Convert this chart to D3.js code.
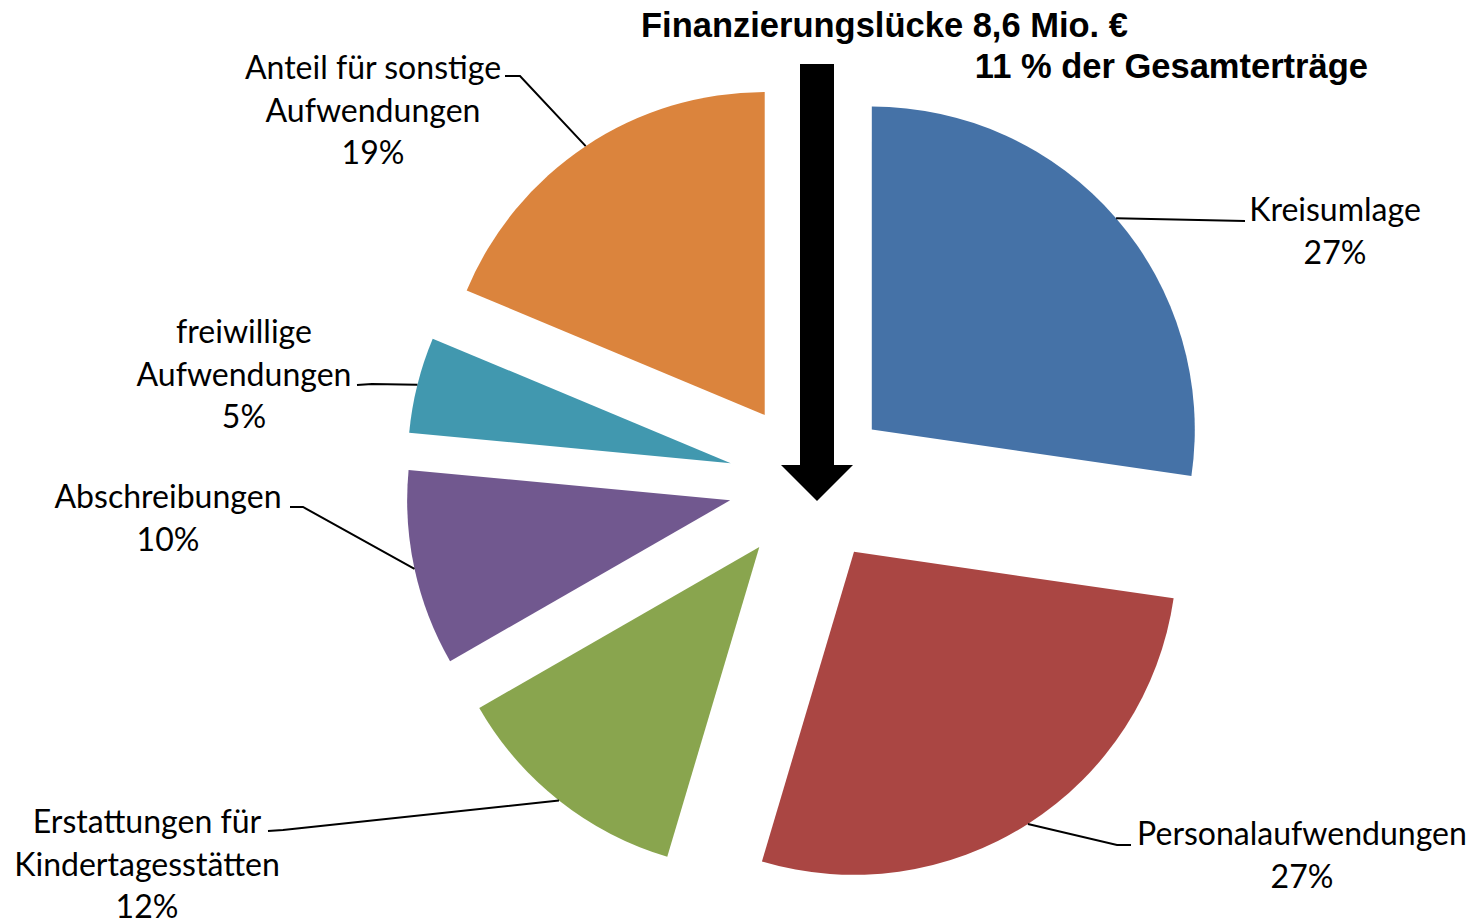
<!DOCTYPE html>
<meta charset="utf-8">
<script src="https://d3js.org/d3.v7.min.js"></script>
<style>
  body { margin: 0; background: #fff; }
</style>
<body>
<svg id="chart" width="1473" height="920"></svg>
<script>
// data
var categories = ["Kreisumlage", "Personalaufwendungen", "Erstattungen für Kindertagesstätten",
                  "Abschreibungen", "freiwillige Aufwendungen", "Anteil für sonstige Aufwendungen"];
var labelLines = [["Kreisumlage"], ["Personalaufwendungen"], ["Erstattungen für", "Kindertagesstätten"],
                  ["Abschreibungen"], ["freiwillige", "Aufwendungen"], ["Anteil für sonstige", "Aufwendungen"]];
var values = [27.3, 27.3, 12.1, 9.8, 4.8, 18.7];
var titleLines = ["Finanzierungslücke 8,6 Mio. €", "11 % der Gesamterträge"];

// layout
var colors = ["#4572A7", "#AA4643", "#89A54E", "#71588F", "#4198AF", "#DB843D"];
var labelPos = [[1335, 210], [1302, 834], [147, 822], [168, 497], [244, 332], [373, 68]];
// leader line: elbow point then end point next to the label
var leaderEnd = [[null, [1245, 221]], [[1117, 845], [1131, 845]], [[283, 830], [268, 831]],
                 [[303, 507], [290, 507]], [[372, 384], [357, 385]], [[520, 76], [505, 76]]];

var cx = 810, cy = 483, radius = 323, explode = 81.7, lineH = 42.5;

var svg = d3.select("#chart");
var total = d3.sum(values);
var pct = d3.format(".0%");

var pie = d3.pie().sort(null).value(function(d) { return d; });
var arc = d3.arc().innerRadius(0).outerRadius(radius);
var outer = d3.arc().innerRadius(radius + explode).outerRadius(radius + explode);
var arcs = pie(values);

var g = svg.append("g").attr("transform", "translate(" + cx + "," + cy + ")");

g.selectAll("path.slice")
  .data(arcs)
  .enter().append("path")
    .attr("class", "slice")
    .attr("fill", function(d, i) { return colors[i]; })
    .attr("transform", function(d) {
      var a = (d.startAngle + d.endAngle) / 2;
      return "translate(" + (Math.sin(a) * explode) + "," + (-Math.cos(a) * explode) + ")";
    })
    .attr("d", arc);

// leader lines
svg.selectAll("path.leader")
  .data(arcs)
  .enter().append("path")
    .attr("class", "leader")
    .attr("fill", "none")
    .attr("stroke", "#000")
    .attr("stroke-width", 2)
    .attr("d", function(d, i) {
      var c = outer.centroid(d);
      var pts = [[cx + c[0], cy + c[1]]];
      if (leaderEnd[i][0]) pts.push(leaderEnd[i][0]);
      pts.push(leaderEnd[i][1]);
      return d3.line()(pts);
    });

// labels, font sized so that "Personalaufwendungen" is ~330px wide
var labelFont = "Lato, 'Open Sans', sans-serif";
var probe = svg.append("text").attr("font-family", labelFont).attr("font-size", 100).text("Personalaufwendungen");
var fs = 100 * 330 / probe.node().getComputedTextLength();
probe.remove();

var labels = svg.selectAll("text.label")
  .data(arcs)
  .enter().append("text")
    .attr("class", "label")
    .attr("font-family", labelFont)
    .attr("font-size", fs)
    .attr("fill", "#000")
    .attr("text-anchor", "middle");

labels.each(function(d, i) {
  var t = d3.select(this);
  var lines = labelLines[i].concat([pct(d.value / total)]);
  lines.forEach(function(s, k) {
    t.append("tspan")
      .attr("x", labelPos[i][0])
      .attr("y", labelPos[i][1] + k * lineH)
      .attr("dy", "0.35em")
      .text(s);
  });
});

// arrow pointing at the pie
var ax = 817, aTop = 64, aHead = 465, aTip = 501, shaft = 17, head = 36;
svg.append("path")
  .attr("fill", "#000")
  .attr("d", d3.line()([[ax - shaft, aTop], [ax + shaft, aTop], [ax + shaft, aHead], [ax + head, aHead],
                        [ax, aTip], [ax - head, aHead], [ax - shaft, aHead]]) + "Z");

// title
svg.append("text")
  .attr("x", 641).attr("y", 37)
  .attr("font-family", "'Liberation Sans', Arial, sans-serif")
  .attr("font-weight", "bold").attr("font-size", 34.5)
  .text(titleLines[0]);
svg.append("text")
  .attr("x", 1368).attr("y", 78)
  .attr("text-anchor", "end")
  .attr("font-family", "'Liberation Sans', Arial, sans-serif")
  .attr("font-weight", "bold").attr("font-size", 34.5)
  .text(titleLines[1]);
</script>
</body>
